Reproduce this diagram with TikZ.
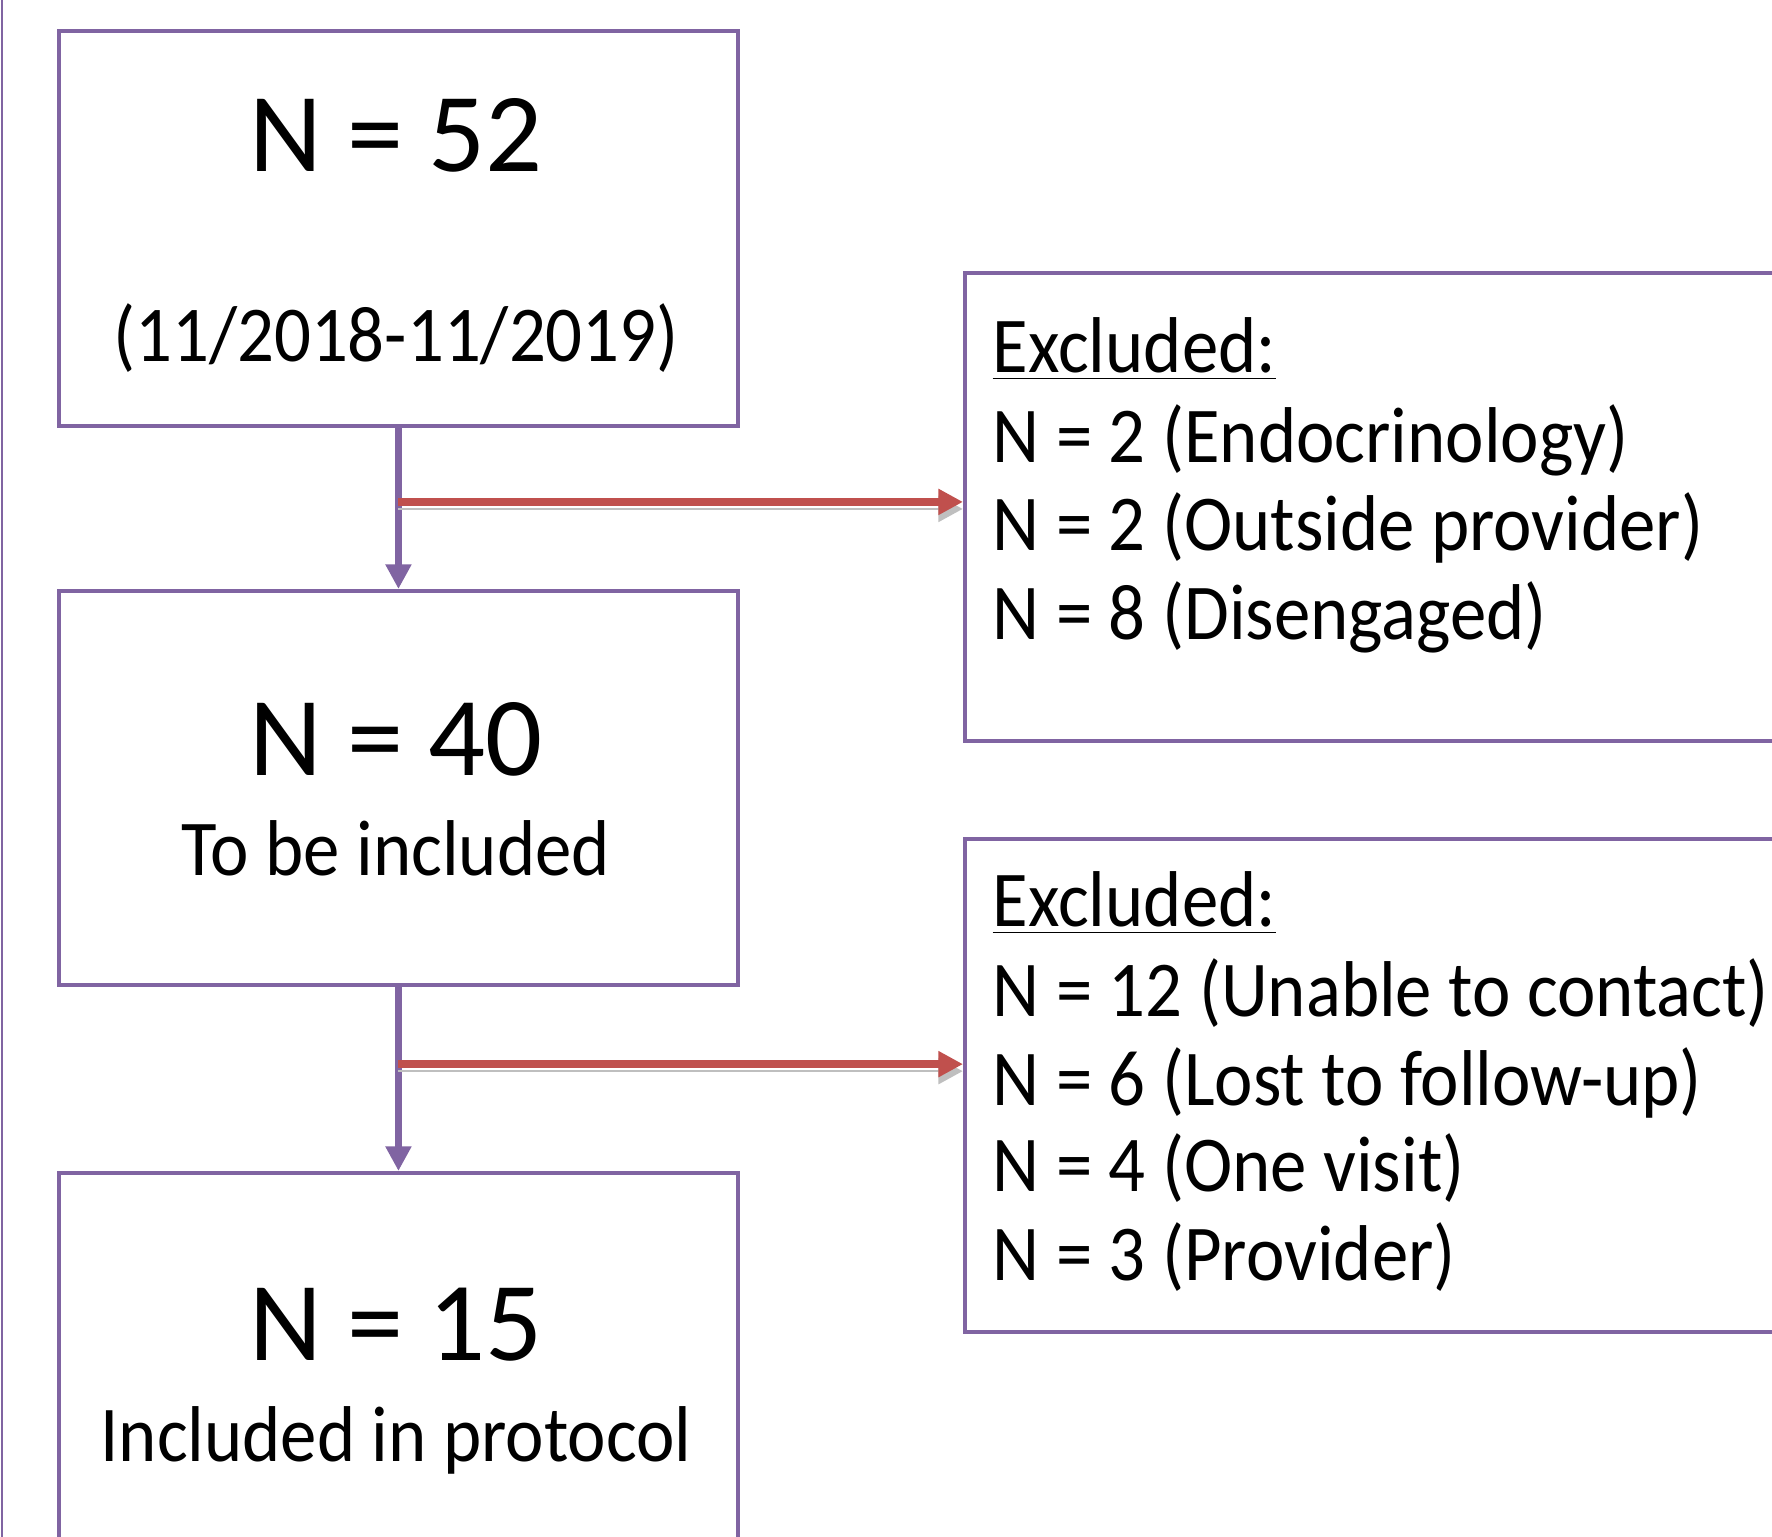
\documentclass[tikz,border=0pt]{standalone}
\usepackage{fontspec}
\setmainfont{Carlito}
\newfontfamily\narrowfont{Carlito}[FakeStretch=0.92]
\usetikzlibrary{arrows.meta,calc}
\definecolor{boxpurple}{RGB}{128,100,162}
\definecolor{arrowred}{RGB}{192,80,77}
\tikzset{
  box/.style={draw=boxpurple, line width=1pt, fill=white, inner sep=0pt},
  down/.style={draw=boxpurple, line width=2.2pt, -{Triangle[length=7pt,width=7pt]}},
  aside/.style={draw=arrowred, line width=2.2pt, -{Triangle[length=7pt,width=7pt]},
    preaction={draw=black!25, transform canvas={yshift=-2pt}}},
  big/.style={font=\fontsize{32}{38}\selectfont, anchor=base, inner sep=0pt},
  small/.style={font=\narrowfont\fontsize{22.5}{27}\selectfont, anchor=base, inner sep=0pt},
  item/.style={font=\narrowfont\fontsize{22.5}{27}\selectfont, anchor=base west, inner sep=0pt},
}
\begin{document}
\begin{tikzpicture}[x=0.01cm,y=-0.01cm]
  \useasboundingbox (0,0) rectangle (1772,1537);
  \clip (0,0) rectangle (1772,1537);
  \draw[boxpurple, line width=0.6pt] (2,0) -- (2,1537);
  % left column
  \node[box, anchor=north west, minimum width=6.79cm, minimum height=3.95cm] (n52) at (57,29) {};
  \node[box, anchor=north west, minimum width=6.79cm, minimum height=3.94cm] (n40) at (57,589) {};
  \node[box, anchor=north west, minimum width=6.79cm, minimum height=4.5cm] (n15) at (57,1171) {};
  \node[big] (t52) at (396,172) {N = 52};
  \node[small] (d52) at (396,362) {(11/2018-11/2019)};
  \node[big] (t40) at (396,776) {N = 40};
  \node[small] (d40) at (396,876) {To be included};
  \node[big] (t15) at (396,1360) {N = 15};
  \node[small] (d15) at (396,1461) {Included in protocol};
  % right column
  \node[box, anchor=north west, minimum width=9.5cm, minimum height=4.68cm] (ex1) at (963,271) {};
  \node[box, anchor=north west, minimum width=9.5cm, minimum height=4.93cm] (ex2) at (963,837) {};
  \node[item] (h1) at (992,373) {\underline{Excluded:}};
  \node[item] (a1) at (992,463) {N = 2 (Endocrinology)};
  \node[item] (a2) at (992,551) {N = 2 (Outside provider)};
  \node[item] (a3) at (992,640) {N = 8 (Disengaged)};
  \node[item] (h2) at (992,927) {\underline{Excluded:}};
  \node[item] (b1) at (992,1017) {N = 12 (Unable to contact)};
  \node[item] (b2) at (992,1105) {N = 6 (Lost to follow-up)};
  \node[item] (b3) at (992,1192) {N = 4 (One visit)};
  \node[item] (b4) at (992,1280) {N = 3 (Provider)};
  % connectors
  \coordinate (j1) at ($(n52.south)!0.46!(n40.north)$);
  \coordinate (j2) at ($(n40.south)!0.42!(n15.north)$);
  \draw[down] (n52) -- (n40);
  \draw[down] (n40) -- (n15);
  \draw[aside] (j1) -- (j1 -| ex1.west);
  \draw[aside] (j2) -- (j2 -| ex2.west);
\end{tikzpicture}
\end{document}
